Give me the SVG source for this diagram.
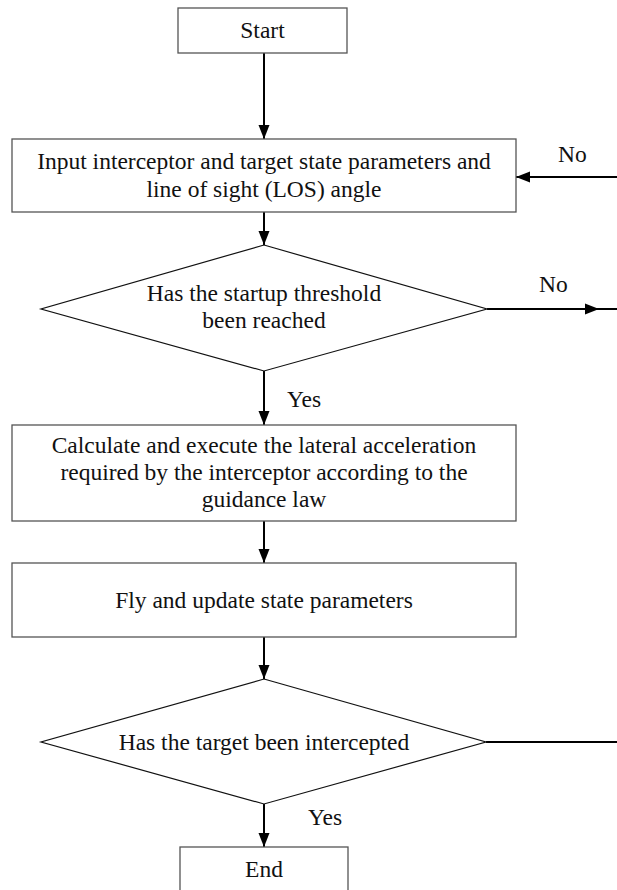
<svg xmlns="http://www.w3.org/2000/svg" width="617" height="890" viewBox="0 0 617 890">
<style>
.box{fill:#fff;stroke:#555;stroke-width:1.3}
.dia{fill:#fff;stroke:#111;stroke-width:1.2}
text{font-family:'Liberation Serif','Times New Roman',Tinos,'DejaVu Serif',serif;font-size:23.5px;fill:#111}
.t{text-anchor:middle}
.c{fill:none;stroke:#000;stroke-width:2}
</style>
<defs>
<marker id="ah" markerUnits="userSpaceOnUse" markerWidth="15" markerHeight="12" refX="14" refY="6" orient="auto">
<path d="M0,0.5 L14,6 L0,11.5 z" fill="#000"/>
</marker>
</defs>
<g id="connectors">
<path class="c" d="M264,53 V139" marker-end="url(#ah)"/>
<path class="c" d="M264,212 V245" marker-end="url(#ah)"/>
<path class="c" d="M264,371 V425" marker-end="url(#ah)"/>
<path class="c" d="M264,521 V563" marker-end="url(#ah)"/>
<path class="c" d="M264,637 V679" marker-end="url(#ah)"/>
<path class="c" d="M264,804 V847" marker-end="url(#ah)"/>
<path class="c" d="M617,177 H516" marker-end="url(#ah)"/>
<path class="c" d="M487,309 H599" marker-end="url(#ah)"/>
<path class="c" d="M598,309 H617"/>
<path class="c" d="M486,742 H617"/>
<text font-family="Liberation Serif, serif" x="558" y="162">No</text>
<text font-family="Liberation Serif, serif" x="539" y="292">No</text>
<text font-family="Liberation Serif, serif" x="287" y="407">Yes</text>
<text font-family="Liberation Serif, serif" x="308" y="825">Yes</text>
</g>
<g id="start">
<rect class="box" x="178" y="8" width="169" height="45"/>
<text class="t" font-family="Liberation Serif, serif" x="262.5" y="38">Start</text>
</g>
<g id="input">
<rect class="box" x="12" y="139" width="504" height="73"/>
<text class="t" font-family="Liberation Serif, serif" x="264" y="169">Input interceptor and target state parameters and</text>
<text class="t" font-family="Liberation Serif, serif" x="264" y="197">line of sight (LOS) angle</text>
</g>
<g id="threshold">
<polygon class="dia" points="264,245 487,309 264,371 41,309"/>
<text class="t" font-family="Liberation Serif, serif" x="264" y="301">Has the startup threshold</text>
<text class="t" font-family="Liberation Serif, serif" x="264" y="328">been reached</text>
</g>
<g id="calculate">
<rect class="box" x="12" y="425" width="504" height="96"/>
<text class="t" font-family="Liberation Serif, serif" x="264" y="453">Calculate and execute the lateral acceleration</text>
<text class="t" font-family="Liberation Serif, serif" x="264" y="480">required by the interceptor according to the</text>
<text class="t" font-family="Liberation Serif, serif" x="264" y="507">guidance law</text>
</g>
<g id="fly">
<rect class="box" x="12" y="563" width="504" height="74"/>
<text class="t" font-family="Liberation Serif, serif" x="264" y="608">Fly and update state parameters</text>
</g>
<g id="intercepted">
<polygon class="dia" points="264,679 486,742 264,804 41,742"/>
<text class="t" font-family="Liberation Serif, serif" x="264" y="750">Has the target been intercepted</text>
</g>
<g id="end">
<rect class="box" x="180" y="847" width="168" height="44"/>
<text class="t" font-family="Liberation Serif, serif" x="264" y="877">End</text>
</g>
</svg>
